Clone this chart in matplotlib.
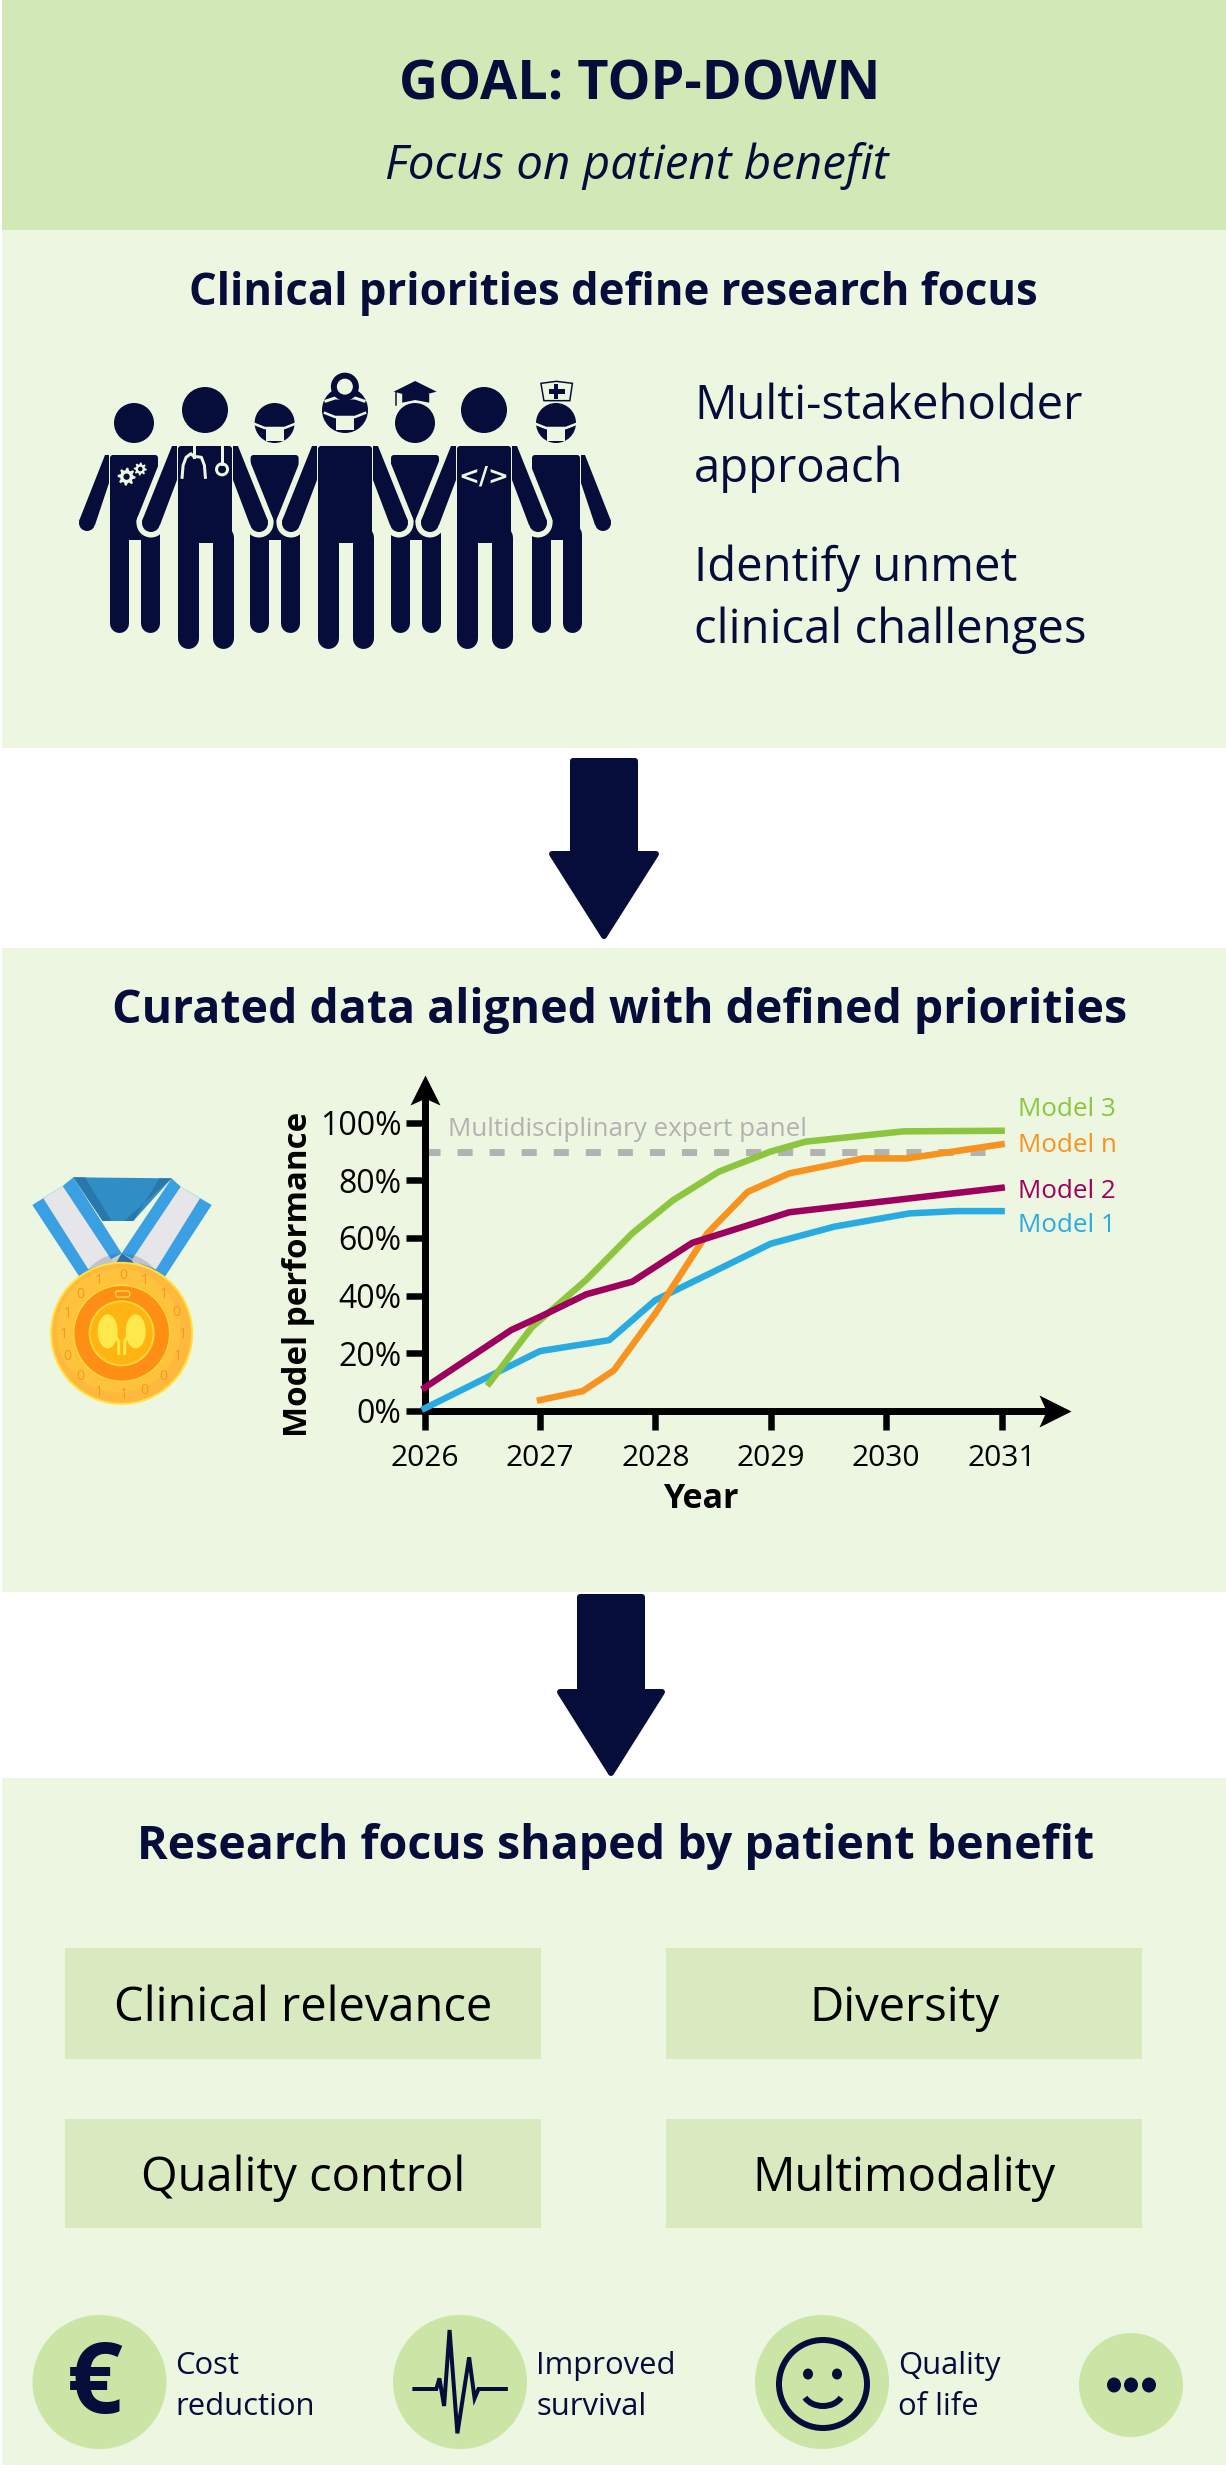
import numpy as np
import matplotlib
matplotlib.use("Agg")
import matplotlib.pyplot as plt
from matplotlib.patches import Rectangle, Ellipse, Circle, Polygon, Arc, FancyBboxPatch

plt.rcParams['font.family'] = ['Open Sans', 'DejaVu Sans']

NAVY = '#060d3a'
HEADER = '#d2e8b6'
PANEL = '#edf6e1'
BOX = '#d9eac0'
DISC = '#cbe5a7'
W, H = 1226, 2475

# chart data
years = [2026, 2027, 2028, 2029, 2030, 2031]
perf_ticks = [0, 20, 40, 60, 80, 100]
expert_level = 89.8

m1_x = [2026, 2027, 2027.6, 2028, 2029, 2029.55, 2030.2, 2030.6, 2031]
m1_y = [0.8, 20.7, 24.5, 38.4, 58, 63.9, 68.5, 69.3, 69.3]
m2_x = [2026, 2026.75, 2027, 2027.4, 2027.8, 2028.32, 2029.16, 2031]
m2_y = [8, 28, 32.6, 40.4, 44.8, 58.3, 68.9, 77.4]
m3_x = [2026.56, 2026.93, 2027.4, 2027.8, 2028.15, 2028.55, 2029, 2029.3, 2030.15, 2031]
m3_y = [9.5, 29, 45.4, 61.6, 73, 83, 90, 93.4, 97, 97.2]
mn_x = [2027, 2027.37, 2027.64, 2028, 2028.45, 2028.8, 2029.16, 2029.8, 2030.18, 2031]
mn_y = [3.7, 6.8, 14, 33.8, 61.6, 76, 82.4, 87.6, 87.6, 92.5]

focus_labels = ['Clinical relevance', 'Diversity', 'Quality control', 'Multimodality']
benefit_labels = ['Cost\nreduction', 'Improved\nsurvival', 'Quality\nof life']
# digits round the medal, zoomed crop coordinates
medal_digits = [('0', 310, 347), ('1', 375, 360), ('1', 432, 403), ('0', 470, 458), ('1', 487, 522),
                ('1', 472, 590), ('0', 430, 648), ('0', 372, 692), ('1', 310, 703), ('1', 235, 697),
                ('0', 180, 648), ('0', 142, 590), ('1', 132, 522), ('1', 142, 460), ('0', 180, 402), ('1', 235, 360)]

fig = plt.figure(figsize=(W / 100, H / 100), dpi=100, facecolor='white')
bg = fig.add_axes([0, 0, 1, 1])
bg.set_xlim(0, W)
bg.set_ylim(H, 0)
bg.axis('off')


def px(v):
    # pixels to points
    return v * 0.72


def txt(x, y, s, size, **kw):
    kw.setdefault('color', NAVY)
    kw.setdefault('va', 'center')
    kw.setdefault('ha', 'left')
    return bg.text(x, y, s, fontsize=px(size), **kw)


def box(x0, y0, x1, y1, color):
    bg.add_patch(Rectangle((x0, y0), x1 - x0, y1 - y0, fc=color, ec='none'))


# panels
box(2, 0, W, 230, HEADER)
box(2, 230, W, 748, PANEL)
box(2, 948, W, 1592, PANEL)
box(2, 1778, W, 2465, PANEL)

txt(640, 86, 'GOAL: TOP-DOWN', 54, weight='bold', ha='center')
txt(637, 166, 'Focus on patient benefit', 47.5, style='italic', ha='center')
txt(613, 293, 'Clinical priorities define research focus', 43.7, weight='bold', ha='center')
txt(620, 1011, 'Curated data aligned with defined priorities', 46.4, weight='bold', ha='center')
txt(616, 1847, 'Research focus shaped by patient benefit', 46.5, weight='bold', ha='center')

txt(694, 406, 'Multi-stakeholder', 47.3)
txt(694, 469, 'approach', 47.3)
txt(694, 568, 'Identify unmet', 47.3)
txt(694, 630, 'clinical challenges', 47.3)


def down_arrow(cx, top, neck, tip, half_shaft, half_head):
    pts = [(cx - half_shaft, top), (cx + half_shaft, top), (cx + half_shaft, neck), (cx + half_head, neck),
           (cx, tip), (cx - half_head, neck), (cx - half_shaft, neck)]
    bg.add_patch(Polygon(pts, closed=True, fc=NAVY, ec=NAVY, lw=px(6), joinstyle='round'))


down_arrow(604, 761, 854, 936, 31, 52)
down_arrow(611, 1597, 1692, 1773, 31, 51)


# people
def z(x, y):
    # coordinates in the zoomed crop of the team icon
    return 60 + x / 2.703, 340 + y / 3


def person(cx, head_y, r, top, sh, torso, leg_w, gap, crotch, foot, arm, sides, halo, zo):
    # arm = outer hand dx, inner hand dx, armpit dy from the top, hand y
    out_dx, in_dx, pit_dy, hand_y = arm
    hand_r = (out_dx - in_dx) / 2
    for side in sides:
        pts = [(cx + side * (sh - 2), top), (cx + side * out_dx, hand_y - 2), (cx + side * in_dx, hand_y + 2),
               (cx + side * torso, top + pit_dy), (cx + side * torso, top)]
        hand = (cx + side * (out_dx + in_dx) / 2, hand_y)
        if halo:
            bg.add_patch(Polygon(pts, closed=True, fc=PANEL, ec=PANEL, lw=px(11), joinstyle='round', zorder=zo))
            bg.add_patch(Circle(hand, hand_r + 5.5, fc=PANEL, ec='none', zorder=zo))
        bg.add_patch(Polygon(pts, closed=True, fc=NAVY, ec='none', zorder=zo + 0.01))
        bg.add_patch(Circle(hand, hand_r, fc=NAVY, ec='none', zorder=zo + 0.01))
    bg.add_patch(FancyBboxPatch((cx - torso + 4, top + 3), 2 * torso - 8, crotch - top, boxstyle='round,pad=3,rounding_size=3',
                                fc=NAVY, ec='none', zorder=zo + 0.01))
    for side in (-1, 1):
        lx = cx + side * (gap + leg_w / 2)
        bg.plot([lx, lx], [crotch, foot - leg_w / 2], color=NAVY, lw=px(leg_w), solid_capstyle='round', zorder=zo + 0.01)
    bg.add_patch(Circle((cx, head_y), r, fc=NAVY, ec='none', zorder=zo + 0.01))


small_xs = [134, 274.6, 415, 556]
small_arms = [[-1], [], [], [1]]
for sx, arms in zip(small_xs, small_arms):
    person(sx, 423, 20, 455, 31, 25, 19, 6, 534, 632, (55, 39, 28, 523), arms, False, 3)
for i, lx in enumerate([205, 345, 484]):
    person(lx, 410, 23, 446, 35, 28, 21, 7, 537, 648, (63, 45, 34, 523), [-1, 1], True, 3.1 + i * 0.1)

ICON_Z = 5
# gears
for (gx, gy), gr in [(z(180, 410), 9), (z(217, 387), 6.5)]:
    ang = np.linspace(0, 2 * np.pi, 32, endpoint=False)
    rad = np.where(np.arange(32) % 4 < 2, gr, gr * 0.72)
    bg.add_patch(Polygon(np.c_[gx + rad * np.cos(ang), gy + rad * np.sin(ang)], fc=PANEL, ec='none', zorder=ICON_Z))
    bg.add_patch(Circle((gx, gy), gr * 0.35, fc=NAVY, ec='none', zorder=ICON_Z))

# stethoscope
sx0, sy0 = z(362, 318)
sx1, sy1 = z(330, 412)
sx2, sy2 = z(393, 412)
sxm, sym = z(362, 350)
bg.plot([sx0, sxm], [sy0, sym], color=PANEL, lw=px(3), zorder=ICON_Z)
bg.plot([sx1, sx1 + 1, sx1 + 4, sxm - 3, sxm, sxm + 3, sx2 - 4, sx2 - 1, sx2],
        [sy1, sy1 - 12, sy1 - 20, sym - 3, sym, sym - 0, sy1 - 20, sy1 - 12, sy1], color=PANEL, lw=px(3), zorder=ICON_Z)
rx0, ry0 = z(438, 318)
rx1, ry1 = z(438, 372)
bg.plot([rx0, rx1], [ry0, ry1], color=PANEL, lw=px(3), zorder=ICON_Z)
bg.add_patch(Circle(z(438, 388), 5.5, fc='none', ec=PANEL, lw=px(3), zorder=ICON_Z))

# code sign
txt(484, 476, '</>', 25, color=PANEL, weight='bold', ha='center', zorder=ICON_Z, family='DejaVu Sans')

# surgical masks
for cx, cy in [(274.6, 423), (556, 423), (345, 412)]:
    bg.plot([cx - 20, cx - 10, cx + 10, cx + 20], [cy + 1, cy + 5, cy + 5, cy + 1], color=PANEL, lw=px(2.5), zorder=ICON_Z)
    bg.add_patch(Rectangle((cx - 9, cy + 4), 18, 14, fc=PANEL, ec='none', zorder=ICON_Z))

# head mirror of the middle person
bg.plot([326, 335, 355, 364], [401, 398, 398, 401], color=PANEL, lw=px(3), zorder=ICON_Z)
bg.add_patch(Circle(z(770, 140), 14, fc=NAVY, ec='none', zorder=ICON_Z))
bg.add_patch(Circle(z(770, 140), 8, fc=PANEL, ec='none', zorder=ICON_Z))

# graduation cap
bg.add_patch(Polygon([z(902, 155), z(960, 123), z(1018, 155), z(960, 172)], fc=NAVY, ec='none', zorder=ICON_Z))
bg.add_patch(Polygon([z(925, 162), z(998, 162), z(998, 188), z(960, 180), z(925, 188)], fc=NAVY, ec='none', zorder=ICON_Z))
bg.plot(*zip(z(908, 155), z(908, 195)), color=NAVY, lw=px(1.5), zorder=ICON_Z)

# nurse cap
bg.add_patch(Polygon([z(1300, 130), z(1342, 124), z(1385, 130), z(1378, 182), z(1308, 182)], fc=PANEL, ec=NAVY, lw=px(1.5), zorder=ICON_Z))
bg.plot(*zip(z(1342, 138), z(1342, 170)), color=NAVY, lw=px(4), zorder=ICON_Z + 1)
bg.plot(*zip(z(1326, 154), z(1358, 154)), color=NAVY, lw=px(5), zorder=ICON_Z + 1)


# medal
def m(x, y):
    return 20 + x / 3, 1160 + y / 3


def mpoly(pts, color, **kw):
    bg.add_patch(Polygon([m(*p) for p in pts], closed=True, fc=color, ec='none', **kw))


mpoly([(160, 52), (455, 55), (340, 183), (248, 183)], '#308ec4')
mpoly([(160, 52), (195, 52), (275, 183), (248, 183)], '#2878ac')
mpoly([(455, 55), (418, 55), (340, 183), (312, 183)], '#2878ac')
mpoly([(37, 135), (128, 78), (160, 52), (305, 280), (178, 350)], '#3a9fe3')
mpoly([(70, 115), (128, 78), (278, 305), (205, 328)], '#e6e6e8')
mpoly([(575, 135), (482, 80), (455, 55), (305, 280), (435, 350)], '#3a9fe3')
mpoly([(540, 115), (482, 80), (335, 300), (408, 328)], '#e6e6e8')
mpoly([(305, 280), (335, 300), (345, 315), (285, 315)], '#2a78b0')
bg.add_patch(Ellipse(m(305, 410), 86, 86, fc='#3a4a70', alpha=0.22, ec='none'))
mx, my = m(305, 520)
bg.add_patch(Circle((mx, my), 70.5, fc='#ffb83e', ec='#ffe23a', lw=px(2)))
bg.add_patch(Circle((mx - 3, my - 3), 62, fc='#ffc23c', ec='none'))
bg.add_patch(Circle((mx, my), 48, fc='#ff8f14', ec='#ffd53a', lw=px(1.5)))
bg.add_patch(Circle((mx, my), 32, fc='#ffb412', ec='#ffd53a', lw=px(2)))
for dx in (-1, 1):
    bg.add_patch(Ellipse((mx + dx * 14, my - 2), 20, 34, fc='#ffe84a', ec='none'))
    bg.plot([mx + dx * 3, mx + dx * 3, mx + dx * 9], [my + 20, my + 8, my - 2], color='#ffe84a', lw=px(3))
bg.add_patch(FancyBboxPatch((m(290, 402)[0], m(290, 402)[1] - 2), 12, 4, boxstyle='round,pad=1,rounding_size=2', fc='#ff8f14', ec='#ffd53a', lw=px(1.5)))
for d, dx, dy in medal_digits:
    x, y = m(dx, dy)
    txt(x, y, d, 14, color='#f39a1f', ha='center')

# focus boxes
focus_boxes = [(65, 1948, 541, 2059), (666, 1948, 1142, 2059), (65, 2119, 541, 2228), (666, 2119, 1142, 2228)]
for (x0, y0, x1, y1), lab in zip(focus_boxes, focus_labels):
    box(x0, y0, x1, y1, BOX)
    txt((x0 + x1) / 2, (y0 + y1) / 2 + 5, lab, 47.2, color='black', ha='center')

# benefit discs
for cx in [99.5, 460, 822]:
    bg.add_patch(Circle((cx, 2382), 67, fc=DISC, ec='none'))
bg.add_patch(Circle((1131, 2385), 52, fc=DISC, ec='none'))

for x, lab in zip([175, 536, 898], benefit_labels):
    top, bottom = lab.split('\n')
    txt(x, 2366, top, 31)
    txt(x, 2407, bottom, 31)

txt(95, 2388, '€', 98, weight='bold', ha='center')

# pulse icon
pulse = [(530, 327), (558, 327), (562, 295), (568, 378), (575, 150), (585, 460), (600, 232), (607, 355), (612, 327), (647, 327)]
bg.plot([p[0] / 1.279 for p in pulse], [2280 + p[1] / 3 for p in pulse], color=NAVY, lw=px(4), solid_joinstyle='miter')

# smiley
bg.add_patch(Circle((823, 2384), 44, fc='none', ec=NAVY, lw=px(6)))
for ex in (808, 837):
    bg.add_patch(Ellipse((ex, 2374), 10, 11, fc=NAVY, ec='none'))
bg.add_patch(Arc((823, 2391), 40, 30, theta1=20, theta2=160, ec=NAVY, lw=px(6)))
for dx in (1114, 1131, 1149):
    bg.add_patch(Ellipse((dx, 2385), 14, 15, fc=NAVY, ec='none'))

# chart, placed so that 2026..2031 and 0..100 land on their pixels
x_end = 2031 + (1055 - 1001.6) / 115.4
y_end = (1410.7 - 1090) / 2.88
ax_l, ax_r, ax_t, ax_b = 424.6, 1055, 1090, 1410.7
ax = fig.add_axes([ax_l / W, 1 - ax_b / H, (ax_r - ax_l) / W, (ax_b - ax_t) / H], facecolor='none')
ax.set_xlim(2026, x_end)
ax.set_ylim(0, y_end)
for s in ('top', 'right'):
    ax.spines[s].set_visible(False)
for s in ('left', 'bottom'):
    ax.spines[s].set_linewidth(px(7))
    ax.spines[s].set_color('black')
ax.set_xticks(years)
ax.set_yticks(perf_ticks)
ax.set_yticklabels([f'{v}%' for v in perf_ticks])
ax.tick_params(axis='both', length=px(19), width=px(6.5), color='black')
ax.tick_params(axis='x', pad=px(14), labelsize=px(30))
ax.tick_params(axis='y', pad=px(4), labelsize=px(32))
ax.set_xlabel('Year', fontsize=px(34), fontweight='bold')
ax.xaxis.set_label_coords((701 - ax_l) / (ax_r - ax_l), -(1482 - ax_b) / (ax_b - ax_t))
ax.set_ylabel('Model performance', fontsize=px(33), fontweight='bold')
ax.yaxis.set_label_coords(-(424.6 - 315) / (ax_r - ax_l), (ax_b - 1274) / (ax_b - ax_t))

ax.plot([2026, 2031], [expert_level, expert_level], color='#b2b2b0', lw=px(7), dashes=(2.15, 2.43), zorder=2)
ax.plot(m1_x, m1_y, color='#29abe2', lw=px(6.5), solid_joinstyle='round', zorder=3, clip_on=False)
ax.plot(m3_x, m3_y, color='#8cc63f', lw=px(6.5), solid_joinstyle='round', zorder=3, clip_on=False)
ax.plot(mn_x, mn_y, color='#f7931e', lw=px(6.5), solid_joinstyle='round', zorder=3, clip_on=False)
ax.plot(m2_x, m2_y, color='#9e005d', lw=px(6.5), solid_joinstyle='round', zorder=4, clip_on=False)

head = [(-1, -1), (1, 0), (-1, 1), (-0.55, 0)]
ax.plot(1, 0, marker=head, ms=px(32), color='black', mew=0, transform=ax.transAxes, clip_on=False, zorder=5)
ax.plot(0, 1, marker=[(-1, -1), (0, 1), (1, -1), (0, -0.55)], ms=px(30), color='black', mew=0,
        transform=ax.transAxes, clip_on=False, zorder=5)

txt(448, 1130, 'Multidisciplinary expert panel', 26, color='#b2b2b0')
for lab, y, c in [('Model 3', 1110, '#8cc63f'), ('Model n', 1146, '#f7931e'), ('Model 2', 1191, '#9e005d'), ('Model 1', 1226, '#29abe2')]:
    txt(1018, y, lab, 26, color=c)

fig.savefig('out.png', dpi=100, facecolor='white')
